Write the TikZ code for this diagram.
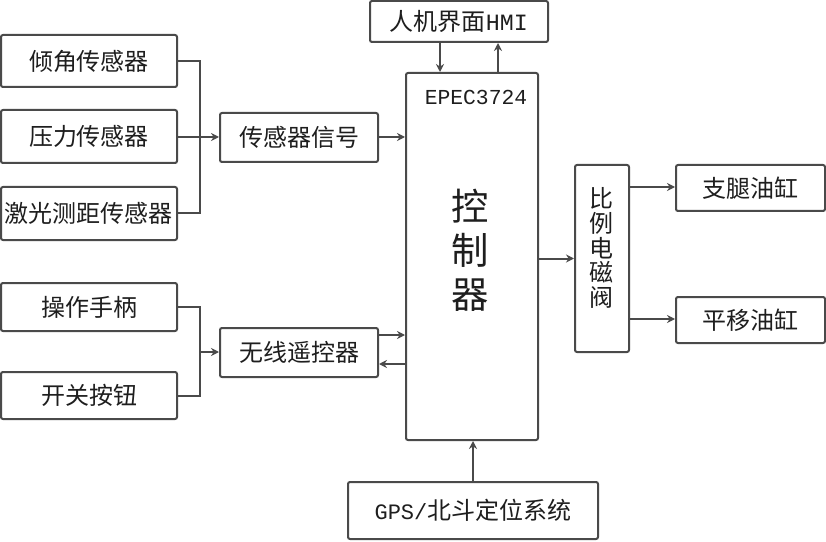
\documentclass[tikz,border=0pt]{standalone}
\usepackage{fontspec}
\setmainfont{Liberation Mono}
\newfontfamily\cjk{Noto Sans CJK SC}
\usetikzlibrary{arrows.meta}
\definecolor{ln}{HTML}{4A4A4A}
\definecolor{tx}{HTML}{1E1E1E}
\newcommand\bbox[6]{\node[box, minimum width={(#4-#2)*0.75pt}, minimum height={(#5-#3)*0.75pt}]
  (#1) at ({(#2+#4)/2},{(#3+#5)/2}) {#6};}
\begin{document}
\begin{tikzpicture}[x=0.75pt,y=-0.75pt,
  box/.style={draw=ln, line width=1.5pt, rounded corners=1.5pt, inner sep=0pt, text=tx,
    font=\cjk\fontsize{18}{20}\selectfont, text height=15.8pt, text depth=2.2pt},
  wire/.style={draw=ln, line width=1.5pt},
  arr/.style={draw=ln, line width=1.5pt, -{Stealth[length=6pt,width=6pt]}},
  lat/.style={font=\fontsize{16}{18}\selectfont}]
\fill[white] (0,0) rectangle (826,542);
\useasboundingbox (0,0) rectangle (826,542);
% left sensors
\bbox{qj}{1}{35}{177}{87}{倾角传感器}
\bbox{yl}{1}{110}{177}{163}{压力传感器}
\bbox{jg}{1}{187}{177}{240}{激光测距传感器}
\bbox{sig}{220}{113}{378}{162}{传感器信号}
% operator inputs
\bbox{cz}{1}{283}{177}{331}{操作手柄}
\bbox{kg}{1}{372}{177}{419}{开关按钮}
\bbox{wl}{220}{328}{378}{377}{无线遥控器}
% HMI, controller
\bbox{hmi}{370}{1}{548}{42}{人机界面{\rmfamily\fontsize{17.5}{18}\selectfont HMI}}
\bbox{ctrl}{406}{73}{538}{440}{}
\node[text=tx, lat] (epec) at (476,97) {EPEC3724};
\node[text=tx, font=\cjk\fontsize{28}{33}\selectfont, align=center, inner sep=0pt] (kzq) at (470,250) {控\\制\\器};
% valve, cylinders
\bbox{valve}{575}{165}{629}{352}{}
\node[text=tx, font=\cjk\fontsize{18}{18.5}\selectfont, align=center, inner sep=0pt] (vt) at (601,248) {比\\例\\电\\磁\\阀};
\bbox{zt}{676}{165}{825}{211}{支腿油缸}
\bbox{py}{676}{297}{825}{343}{平移油缸}
% GPS
\bbox{gps}{348}{482}{598}{539}{{\rmfamily\fontsize{16.5}{18}\selectfont GPS/}北斗定位系统}
% coordinates
\coordinate (b1) at (200,137);
\coordinate (b2) at (200,352);
\coordinate (h1) at (440,0);
\coordinate (h2) at (498,0);
\coordinate (w1) at (0,335);
\coordinate (w2) at (0,364);
\coordinate (v1) at (0,187);
\coordinate (v2) at (0,319);
% connectors
\draw[wire] (qj.east) -| (b1) |- (jg.east);
\draw[arr] (yl.east |- b1) -- (sig.west |- b1);
\draw[arr] (sig.east |- b1) -- (ctrl.west |- b1);
\draw[wire] (cz.east) -| (b2) |- (kg.east);
\draw[arr] (b2) -- (wl.west |- b2);
\draw[arr] (wl.east |- w1) -- (ctrl.west |- w1);
\draw[arr] (ctrl.west |- w2) -- (wl.east |- w2);
\draw[arr] (h1 |- hmi.south) -- (h1 |- ctrl.north);
\draw[arr] (h2 |- ctrl.north) -- (h2 |- hmi.south);
\draw[arr] (ctrl.east |- valve.west) -- (valve.west);
\draw[arr] (valve.east |- v1) -- (zt.west |- v1);
\draw[arr] (valve.east |- v2) -- (py.west |- v2);
\draw[arr] (gps.north) -- (gps.north |- ctrl.south);
\end{tikzpicture}
\end{document}
